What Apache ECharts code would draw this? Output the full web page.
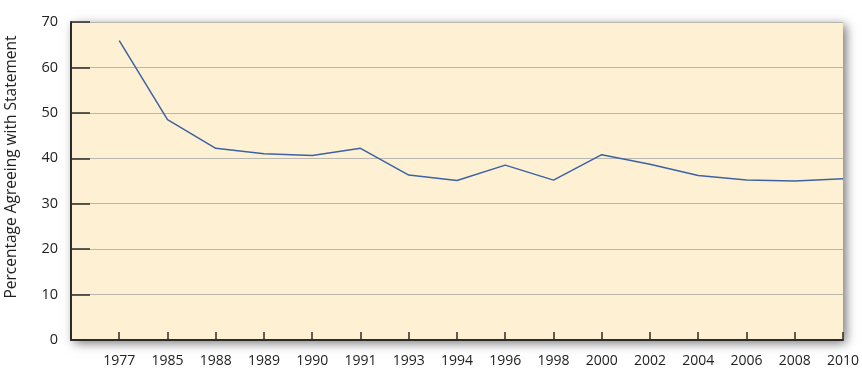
<!DOCTYPE html>
<html><head><meta charset="utf-8">
<script src="https://cdn.jsdelivr.net/npm/echarts@6/dist/echarts.min.js"></script>
<style>html,body{margin:0;padding:0;background:#fff}#c{width:862px;height:371px}</style>
</head><body><div id="c"></div>
<script>
var years = ['1977','1985','1988','1989','1990','1991','1993','1994','1996','1998','2000','2002','2004','2006','2008','2010'];
var values = [65.9, 48.5, 42.2, 41.0, 40.6, 42.2, 36.3, 35.1, 38.5, 35.2, 40.8, 38.7, 36.2, 35.2, 35.0, 35.5];
var yTicks = [0, 10, 20, 30, 40, 50, 60, 70];
var yTitle = 'Percentage Agreeing with Statement';

var cats = [''].concat(years);
var data = [null].concat(values);
var chart = echarts.init(document.getElementById('c'));
chart.setOption({
  animation: false,
  grid: {left: 71, right: 19, top: 22, bottom: 31, show: true,
    backgroundColor: '#fef1d3', borderWidth: 0,
    shadowBlur: 10, shadowColor: 'rgba(0,0,0,0.55)', shadowOffsetX: 3, shadowOffsetY: 3},
  graphic: [{type: 'text', x: 12, y: 167, rotation: Math.PI / 2,
    style: {text: yTitle, fill: '#222', font: '15.5px "Open Sans"', align: 'center', verticalAlign: 'middle'}}],
  xAxis: {type: 'category', data: cats, boundaryGap: false,
    axisLine: {lineStyle: {color: '#2b2b2b', width: 2}},
    axisTick: {inside: true, length: 8, lineStyle: {color: '#2b2b2b', width: 1.5}},
    axisLabel: {color: '#222', fontFamily: 'Open Sans', fontSize: 14, margin: 14},
    splitLine: {show: false}},
  yAxis: {type: 'value', min: yTicks[0], max: yTicks[yTicks.length-1], interval: 10,
    axisLine: {show: true, lineStyle: {color: '#2b2b2b', width: 2}},
    axisTick: {show: true, inside: true, length: 19, lineStyle: {color: '#2b2b2b', width: 1.5}},
    axisLabel: {color: '#222', fontFamily: 'Open Sans', fontSize: 14.5, margin: 13},
    splitLine: {show: true, lineStyle: {color: '#b9b6ae', width: 1.2}}},
  series: [{type: 'line', data: data, symbol: 'none', connectNulls: false,
    lineStyle: {color: '#3d62a3', width: 1.5}}]
});
</script></body></html>
